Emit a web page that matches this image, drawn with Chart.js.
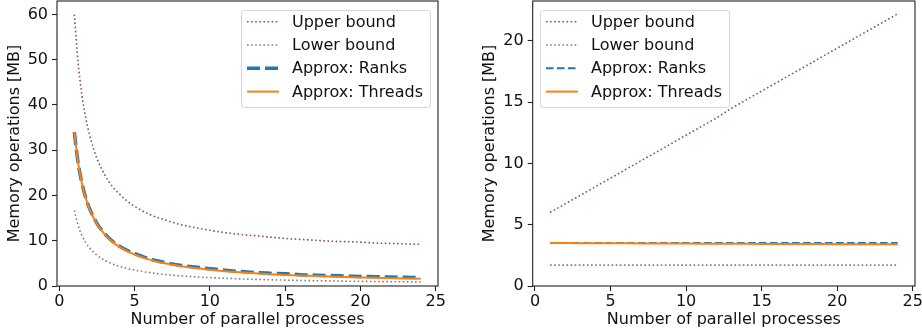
<!DOCTYPE html>
<html>
<head>
<meta charset="utf-8">
<script src="https://cdn.jsdelivr.net/npm/chart.js@4/dist/chart.umd.min.js"></script>
<style>
  html, body { margin: 0; padding: 0; background: #fff; }
  #wrap { display: flex; width: 922px; height: 336px; }
  canvas { display: block; }
</style>
</head>
<body>
<div id="wrap">
  <canvas id="scalingChart" width="460" height="336"></canvas>
  <canvas id="constChart" width="462" height="336"></canvas>
</div>
<script>
// left panel is sampled more densely where the curves drop steeply
const leftProcesses = [1, 1.25, 1.5, 1.75, 2, 2.5, 3, 3.5, 4, 4.5, 5, 6, 7, 8, 9, 10, 11, 12, 13, 14, 15, 16, 17, 18, 19, 20, 21, 22, 23, 24];
const rightProcesses = [1, 2, 3, 4, 5, 6, 7, 8, 9, 10, 11, 12, 13, 14, 15, 16, 17, 18, 19, 20, 21, 22, 23, 24];

// left panel: memory operations [MB]
const leftUpper = [60.0, 49.4, 42.3, 37.3, 33.5, 28.2, 24.7, 22.1, 20.3, 18.8, 17.6, 15.8, 14.6, 13.6, 12.9, 12.3, 11.8, 11.4, 11.1, 10.8, 10.5, 10.3, 10.1, 9.9, 9.8, 9.7, 9.5, 9.4, 9.3, 9.2];
const leftLower = [16.7, 13.4, 11.2, 9.63, 8.45, 6.8, 5.7, 4.91, 4.33, 3.87, 3.5, 2.95, 2.56, 2.26, 2.03, 1.85, 1.7, 1.58, 1.47, 1.38, 1.3, 1.23, 1.17, 1.12, 1.07, 1.03, 0.99, 0.95, 0.92, 0.89];
const leftRanks = [34.0, 27.25, 22.8, 19.6, 17.2, 13.85, 11.6, 10.0, 8.8, 7.89, 7.2, 6.0, 5.2, 4.6, 4.2, 3.8, 3.5, 3.2, 3.0, 2.8, 2.7, 2.5, 2.4, 2.3, 2.2, 2.1, 2.05, 1.97, 1.91, 1.85];
const leftThreads = [34.0, 27.2, 22.7, 19.5, 17.1, 13.7, 11.5, 9.86, 8.65, 7.71, 6.96, 5.83, 5.03, 4.43, 3.96, 3.58, 3.27, 3.02, 2.8, 2.61, 2.45, 2.31, 2.19, 2.08, 1.98, 1.89, 1.81, 1.74, 1.67, 1.61];

// right panel: memory operations [MB]
const rightUpper = [6.0, 6.7, 7.4, 8.1, 8.8, 9.5, 10.2, 10.9, 11.6, 12.3, 13.0, 13.7, 14.5, 15.2, 15.9, 16.6, 17.3, 18.0, 18.7, 19.4, 20.1, 20.8, 21.5, 22.2];
const rightLower = [1.7, 1.7, 1.7, 1.7, 1.7, 1.7, 1.7, 1.7, 1.7, 1.7, 1.7, 1.7, 1.7, 1.7, 1.7, 1.7, 1.7, 1.7, 1.7, 1.7, 1.7, 1.7, 1.7, 1.7];
const rightRanks = [3.5, 3.5, 3.5, 3.5, 3.5, 3.5, 3.5, 3.5, 3.5, 3.5, 3.5, 3.5, 3.5, 3.5, 3.5, 3.5, 3.5, 3.5, 3.5, 3.5, 3.5, 3.5, 3.5, 3.5];
const rightThreads = [3.5, 3.5, 3.49, 3.49, 3.48, 3.48, 3.47, 3.47, 3.46, 3.46, 3.45, 3.45, 3.44, 3.44, 3.43, 3.43, 3.42, 3.42, 3.42, 3.41, 3.41, 3.41, 3.4, 3.4];

// tick labels
const xTicks = [0, 5, 10, 15, 20, 25];
const leftYTicks = [0, 10, 20, 30, 40, 50, 60];
const rightYTicks = [0, 5, 10, 15, 20];

const FONT = "'DejaVu Sans', sans-serif";
const FSIZE = 16;
const C_UPPER = "#8c564b";
const C_LOWER = "#7f7f7f";
const C_RANKS = "#1f77b4";
const C_THREADS = "#ff7f0e";
const DOTS = [1.6, 2.5];

const points = (xs, ys) => ys.map((y, i) => ({ x: xs[i], y }));

// later series are drawn on top (lowest order is drawn last)
function makeDatasets(xs, upper, lower, ranks, threads, ranksWidth, ranksDash) {
  return [
    { label: "Upper bound", data: points(xs, upper), borderColor: C_UPPER, borderWidth: 1.6, borderDash: DOTS, order: 3 },
    { label: "Lower bound", data: points(xs, lower), borderColor: C_LOWER, borderWidth: 1.6, borderDash: DOTS, order: 2 },
    { label: "Approx: Ranks", data: points(xs, ranks), borderColor: C_RANKS, borderWidth: ranksWidth, borderDash: ranksDash, order: 1 },
    { label: "Approx: Threads", data: points(xs, threads), borderColor: C_THREADS, borderWidth: 2, order: 0 }
  ];
}

// axes box on all four sides plus a matplotlib-style legend inside the plot
const boxAndLegend = {
  id: "boxAndLegend",
  afterDraw(chart, args, opts) {
    const { ctx, chartArea: a } = chart;
    ctx.save();
    ctx.strokeStyle = "#222";
    ctx.lineWidth = 1.1;
    ctx.strokeRect(a.left, a.top, a.right - a.left, a.bottom - a.top);

    const x0 = opts.x, y0 = 10, w = 189, h = 97, r = 3;
    ctx.beginPath();
    ctx.roundRect(x0 + 0.5, y0 + 0.5, w, h, r);
    ctx.fillStyle = "rgba(255,255,255,0.8)";
    ctx.fill();
    ctx.strokeStyle = "#d6d6d6";
    ctx.lineWidth = 1;
    ctx.stroke();

    ctx.font = FSIZE + "px " + FONT;
    ctx.textBaseline = "middle";
    chart.data.datasets.forEach((ds, i) => {
      const y = y0 + 11.7 + i * 23.3;
      ctx.beginPath();
      ctx.strokeStyle = ds.borderColor;
      ctx.lineWidth = ds.borderWidth;
      ctx.setLineDash(ds.borderDash || []);
      ctx.moveTo(x0 + 6, y);
      ctx.lineTo(x0 + 38, y);
      ctx.stroke();
      ctx.setLineDash([]);
      ctx.fillStyle = "#111";
      ctx.fillText(ds.label, x0 + 51, y + 1);
    });
    ctx.restore();
  }
};

function makeChart(id, datasets, smooth, yMax, yTicks, yWidth, yTitlePad, padRight, legendX) {
  return new Chart(document.getElementById(id), {
    type: "line",
    data: { datasets },
    plugins: [boxAndLegend],
    options: {
      responsive: false,
      animation: false,
      devicePixelRatio: 1,
      layout: { padding: { top: 1, right: padRight, left: 0, bottom: 0 } },
      elements: {
        point: { radius: 0 },
        line: { tension: 0, cubicInterpolationMode: smooth ? "monotone" : "default" }
      },
      plugins: {
        legend: { display: false },
        tooltip: { enabled: false },
        boxAndLegend: { x: legendX }
      },
      scales: {
        x: {
          type: "linear",
          min: -0.15,
          max: 25.15,
          afterBuildTicks: (s) => { s.ticks = xTicks.map((v) => ({ value: v })); },
          afterFit: (s) => { s.height = 50; s.paddingLeft = 0; s.paddingRight = 0; },
          grid: { drawOnChartArea: false, drawTicks: true, tickLength: 5, tickWidth: 1.1, tickColor: "#222" },
          border: { display: false },
          ticks: { color: "#111", font: { family: FONT, size: FSIZE }, padding: 1, maxRotation: 0 },
          title: { display: true, text: "Number of parallel processes", color: "#111", font: { family: FONT, size: FSIZE }, padding: { top: 0, bottom: 7 } }
        },
        y: {
          min: 0,
          max: yMax,
          afterBuildTicks: (s) => { s.ticks = yTicks.map((v) => ({ value: v })); },
          afterFit: (s) => { s.width = yWidth; s.paddingTop = 0; s.paddingBottom = 0; },
          grid: { drawOnChartArea: false, drawTicks: true, tickLength: 5, tickWidth: 1.1, tickColor: "#222" },
          border: { display: false },
          ticks: { color: "#111", font: { family: FONT, size: FSIZE }, padding: 4 },
          title: { display: true, text: "Memory operations [MB]", color: "#111", font: { family: FONT, size: FSIZE }, padding: { top: yTitlePad, bottom: 0 } }
        }
      }
    }
  });
}

makeChart("scalingChart",
  makeDatasets(leftProcesses, leftUpper, leftLower, leftRanks, leftThreads, 3.5, [13, 5]),
  true, 62.97, leftYTicks, 57, 5, 22, 241);

makeChart("constChart",
  makeDatasets(rightProcesses, rightUpper, rightLower, rightRanks, rightThreads, 2, [7.5, 3.5]),
  false, 23.25, rightYTicks, 72.7, 20, 7, 80);
</script>
</body>
</html>
